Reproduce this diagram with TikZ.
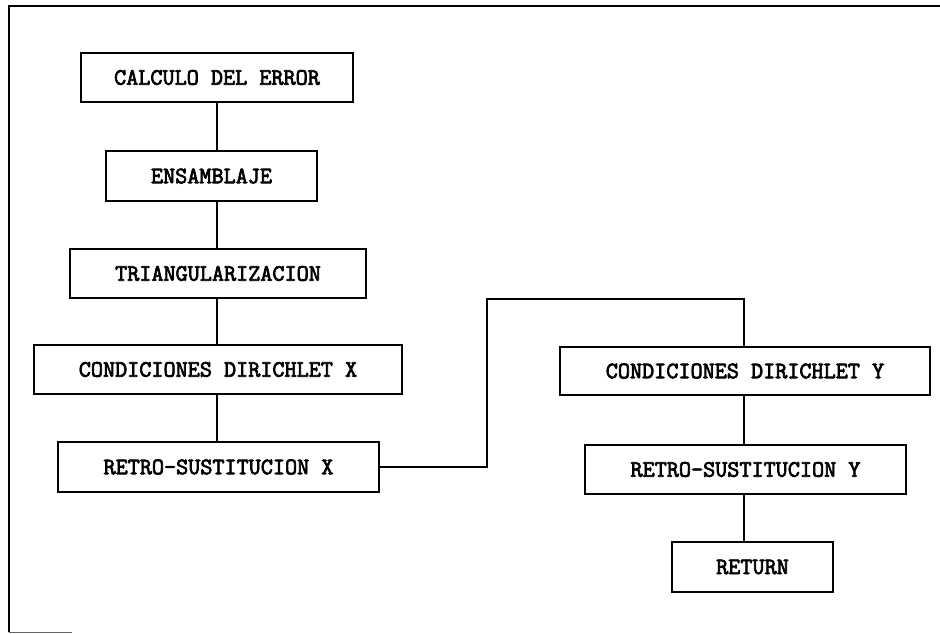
\documentclass[tikz,border=0pt]{standalone}
\usepackage{fontspec}
\newfontfamily\boxfont{Latin Modern Mono}[FakeBold=3]
\begin{document}
\begin{tikzpicture}[x=1pt,y=1pt,
  procbox/.style={draw=black,line width=1.6pt,inner sep=0pt,anchor=center,
    font=\boxfont\fontsize{23.5}{28}\selectfont},
  link/.style={draw=black,line width=1.5pt}]
\useasboundingbox (0,0) rectangle (940,634);
% frame
\draw[line width=1.6pt] (9,1.5) -- (9,628) -- (940,628);
\draw[line width=1pt,black!60] (9,1.5) -- (72,1.5);
% boxes
\node[procbox,minimum width=272pt,minimum height=49pt] (calc) at (217,556.5) {CALCULO DEL ERROR};
\node[procbox,minimum width=211pt,minimum height=50pt] (ens) at (211.5,458) {ENSAMBLAJE};
\node[procbox,minimum width=296pt,minimum height=49pt] (tri) at (218,360.5) {TRIANGULARIZACION};
\node[procbox,minimum width=368pt,minimum height=49pt] (condx) at (218,264.5) {CONDICIONES DIRICHLET X};
\node[procbox,minimum width=321pt,minimum height=50pt] (retrox) at (218.5,167) {RETRO-SUSTITUCION X};
\node[procbox,minimum width=370pt,minimum height=48pt] (condy) at (745,263) {CONDICIONES DIRICHLET Y};
\node[procbox,minimum width=321pt,minimum height=49pt] (retroy) at (745.5,164.5) {RETRO-SUSTITUCION Y};
\node[procbox,minimum width=161pt,minimum height=50pt] (ret) at (752.5,67) {RETURN};
% connectors
\coordinate (lx) at (217,0);
\coordinate (rx) at (744,0);
\draw[link] (lx |- calc.south) -- (lx |- ens.north);
\draw[link] (lx |- ens.south) -- (lx |- tri.north);
\draw[link] (lx |- tri.south) -- (lx |- condx.north);
\draw[link] (lx |- condx.south) -- (lx |- retrox.north);
\coordinate (j1) at (487,335);
\draw[link] (retrox.east) -| (j1) -| (rx |- condy.north);
\draw[link] (rx |- condy.south) -- (rx |- retroy.north);
\draw[link] (rx |- retroy.south) -- (rx |- ret.north);
\end{tikzpicture}
\end{document}
